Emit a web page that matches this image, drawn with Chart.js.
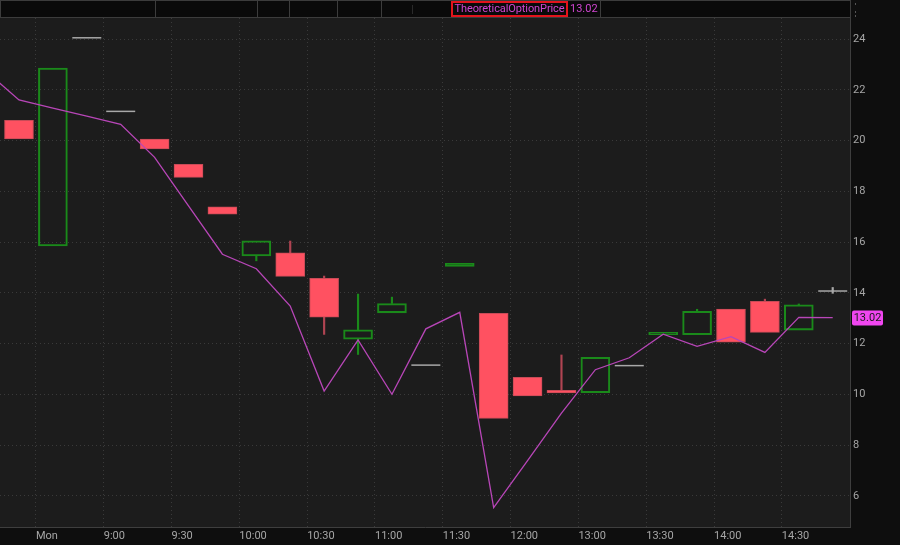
<!DOCTYPE html>
<html>
<head>
<meta charset="utf-8">
<script src="https://cdn.jsdelivr.net/npm/chart.js@4.4.1/dist/chart.umd.min.js"></script>
<style>
html,body{margin:0;padding:0;background:#0e0e0e;}
#wrap{position:relative;width:900px;height:545px;overflow:hidden;background:#0e0e0e;}
#chart{position:absolute;left:0;top:0;}
#topbar{position:absolute;left:0;top:0;width:849px;height:16px;background:#0a0a0a;border:1px solid #3c3c3c;}
.sep{position:absolute;top:0;width:1px;height:16px;background:#3c3c3c;}
.faint{position:absolute;top:4px;width:1px;height:9px;background:#2a2a2a;}
#legendBox{position:absolute;left:450px;top:0px;width:113px;height:12px;border:2px solid #e3141c;
  color:#cf45cf;font:11px Roboto, "Noto Sans", sans-serif;line-height:12px;text-align:center;white-space:nowrap;letter-spacing:-0.1px;}
#legendVal{position:absolute;left:569px;top:1px;color:#cf45cf;font:11px Roboto, "Noto Sans", sans-serif;line-height:14px;}
.dot{position:absolute;left:855px;width:1px;height:2px;background:#555;}
</style>
</head>
<body>
<div id="wrap">
<canvas id="chart" width="900" height="545"></canvas>
<div id="topbar">
  <div class="sep" style="left:154px"></div>
  <div class="sep" style="left:256px"></div>
  <div class="sep" style="left:288px"></div>
  <div class="sep" style="left:336px"></div>
  <div class="sep" style="left:380px"></div>
  <div class="faint" style="left:411px"></div>
  <div class="sep" style="left:599px"></div>
  <div id="legendBox">TheoreticalOptionPrice</div>
  <div id="legendVal">13.02</div>
</div>
<div class="dot" style="top:3px"></div>
<div class="dot" style="top:11px"></div>
<div class="dot" style="top:15px"></div>
</div>
<script>
// ---- data (15-minute candles, index 0..24) ----
const candles = ['c0','c1','c2','c3','c4','c5','c6','c7','c8','c9','c10','c11','c12','c13','c14','c15','c16','c17','c18','c19','c20','c21','c22','c23','c24'];
const opens  = [20.80,15.85,24.05,21.15,20.06,19.06,17.39,15.45,15.58,14.57,12.17,13.21,11.15,15.04,13.19,10.67,10.16,10.06,11.13,12.35,12.35,13.36,13.66,12.53,14.07];
const highs  = [20.80,22.86,24.05,21.15,20.06,19.06,17.39,16.05,16.04,14.66,13.95,13.83,11.15,15.16,13.19,10.67,11.55,11.46,11.13,12.44,13.35,13.36,13.75,13.56,14.21];
const lows   = [20.06,15.85,24.05,21.15,19.67,18.55,17.10,15.26,14.65,12.36,11.57,13.21,11.15,15.04, 9.05, 9.94,10.05,10.06,11.13,12.35,12.35,12.05,12.44,12.53,13.98];
const closes = [20.06,22.86,24.05,21.15,19.67,18.55,17.10,16.05,14.65,13.04,12.54,13.58,11.15,15.16, 9.05, 9.94,10.05,11.46,11.13,12.44,13.27,12.05,12.44,13.53,14.07];
// theoretical option price; first value belongs to the candle just before the visible window
const theoPrice = [22.76,21.60,21.28,20.96,20.64,19.34,17.43,15.52,14.95,13.48,10.13,12.14,10.00,12.58,13.23,5.53,7.39,9.26,10.97,11.44,12.37,11.89,12.27,11.65,13.03,13.02];
const tickLabels  = ['Mon','9:00','9:30','10:00','10:30','11:00','11:30','12:00','13:00','13:30','14:00','14:30'];
const tickCandles = [1,3,5,7,9,11,13,15,17,19,21,23];
const yTicks = [6,8,10,12,14,16,18,20,22,24];

// ---- styles ----
const RED = '#ff5161', RED_BORDER = '#c84b57', RED_WICK = '#b04452';
const GREEN = '#1a8a1a';
const GRAY = '#a8a8a8';
const LINE = '#b846b8';
const BADGE = '#f046f0';
const TICK_COLOR = '#a6a6a6';
const FONT = {family: 'Roboto, "Noto Sans", sans-serif', size: 11};

// ---- derived datasets ----
const bodyData = [], bodyKind = [], wickData = [], wickKind = [], dojiData = [];
candles.forEach((c, i) => {
  const o = opens[i], h = highs[i], l = lows[i], cl = closes[i];
  const kind = cl > o ? 'up' : (cl < o ? 'down' : 'flat');
  const top = Math.max(o, cl), bot = Math.min(o, cl);
  if (kind === 'flat') dojiData.push({x: i, y: cl});
  else { bodyData.push({x: i, y: [o, cl]}); bodyKind.push(kind); }
  if (h > top) { wickData.push({x: i, y: [top, h]}); wickKind.push(kind); }
  if (l < bot) { wickData.push({x: i, y: [l, bot]}); wickKind.push(kind); }
});
const lineData = theoPrice.map((v, k) => ({x: k - 1, y: v}));

const bgPlugin = {
  id: 'bg',
  beforeDraw(chart) {
    const {ctx, chartArea: a} = chart;
    ctx.save();
    ctx.fillStyle = '#0e0e0e';
    ctx.fillRect(0, 0, chart.width, chart.height);
    ctx.fillStyle = '#1c1c1c';
    ctx.fillRect(a.left, a.top, a.right - a.left, a.bottom - a.top);
    ctx.restore();
  }
};
const badgePlugin = {
  id: 'badge',
  afterDraw(chart) {
    const y = chart.scales.y;
    const v = theoPrice[theoPrice.length - 1];
    const py = Math.round(y.getPixelForValue(v));
    const ctx = chart.ctx;
    const x0 = y.left + 2, w = 31, h = 15;
    ctx.save();
    ctx.fillStyle = BADGE;
    ctx.beginPath();
    ctx.roundRect(x0, py - h / 2, w, h, 2);
    ctx.fill();
    ctx.fillStyle = '#1a1a1a';
    ctx.font = '11px Roboto, "Noto Sans", sans-serif';
    ctx.textAlign = 'center';
    ctx.textBaseline = 'middle';
    ctx.fillText(v.toFixed(2), x0 + w / 2, py + 0.5);
    ctx.restore();
  }
};

new Chart(document.getElementById('chart'), {
  type: 'bar',
  data: {
    datasets: [
      {
        type: 'line', label: 'TheoreticalOptionPrice', data: lineData, order: 0,
        borderColor: LINE, borderWidth: 1.3, pointRadius: 0, tension: 0, fill: false
      },
      {
        type: 'bar', label: 'body', data: bodyData, order: 1, grouped: false,
        barThickness: 29, borderSkipped: false,
        backgroundColor: ctx => bodyKind[ctx.dataIndex] === 'down' ? RED : 'rgba(0,0,0,0)',
        borderColor: ctx => bodyKind[ctx.dataIndex] === 'down' ? RED_BORDER : GREEN,
        borderWidth: ctx => bodyKind[ctx.dataIndex] === 'down' ? 1 : 1.4
      },
      {
        type: 'line', label: 'doji', data: dojiData, order: 2, showLine: false,
        pointStyle: 'line', pointRadius: 14.5, pointHoverRadius: 14.5,
        pointBorderColor: GRAY, pointBorderWidth: 1.5, borderColor: GRAY
      },
      {
        type: 'bar', label: 'wick', data: wickData, order: 3, grouped: false,
        barThickness: 1.5, borderWidth: 0,
        backgroundColor: ctx => wickKind[ctx.dataIndex] === 'down' ? RED_WICK : (wickKind[ctx.dataIndex] === 'up' ? GREEN : GRAY)
      }
    ]
  },
  options: {
    responsive: false,
    animation: false,
    layout: {autoPadding: false, padding: {top: 18, left: 0, right: 0, bottom: 0}},
    plugins: {legend: {display: false}, tooltip: {enabled: false}},
    scales: {
      x: {
        type: 'linear', position: 'bottom', min: -0.56, max: 24.51, offset: false,
        afterBuildTicks: s => { s.ticks = tickCandles.map(c => ({value: c - 0.5})); },
        afterFit: s => { s.height = 18; s.paddingLeft = 0; s.paddingRight = 0; },
        ticks: {
          callback: (v, idx) => tickLabels[idx],
          align: 'start', color: TICK_COLOR, font: FONT, padding: 3,
          autoSkip: false, maxRotation: 0
        },
        grid: {color: '#3a3a3a', lineWidth: 1, drawTicks: false, offset: false},
        border: {color: '#3e3e3e', width: 1, dash: [1, 3]}
      },
      y: {
        type: 'linear', position: 'right', min: 4.77, max: 24.83,
        afterBuildTicks: s => { s.ticks = yTicks.map(v => ({value: v})); },
        afterFit: s => { s.width = 50; },
        ticks: {callback: v => String(v), color: TICK_COLOR, font: FONT, padding: 3},
        grid: {color: '#3a3a3a', lineWidth: 1, drawTicks: false},
        border: {color: '#3e3e3e', width: 1, dash: [1, 3]}
      }
    }
  },
  plugins: [bgPlugin, badgePlugin]
});
</script>
</body>
</html>
